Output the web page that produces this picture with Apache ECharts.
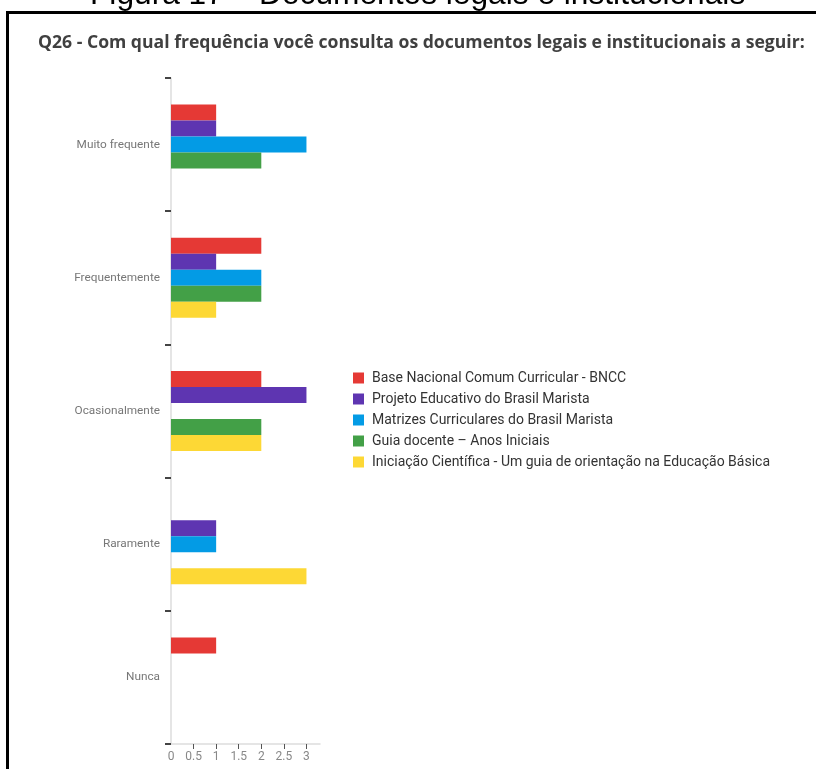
<!DOCTYPE html>
<html>
<head>
<meta charset="utf-8">
<script src="https://cdn.jsdelivr.net/npm/echarts@6/dist/echarts.min.js"></script>
<style>
html,body{margin:0;padding:0;background:#fff;}
#chart{width:816px;height:769px;}
</style>
</head>
<body>
<div id="chart"></div>
<script>
const categories = ['Muito frequente', 'Frequentemente', 'Ocasionalmente', 'Raramente', 'Nunca'];
const seriesNames = [
  'Base Nacional Comum Curricular - BNCC',
  'Projeto Educativo do Brasil Marista',
  'Matrizes Curriculares do Brasil Marista',
  'Guia docente – Anos Iniciais',
  'Iniciação Científica - Um guia de orientação na Educação Básica'
];
const bncc = [1, 2, 2, 0, 1];
const projeto = [1, 1, 3, 1, 0];
const matrizes = [3, 2, 0, 1, 0];
const guia = [2, 2, 2, 0, 0];
const iniciacao = [0, 1, 2, 3, 0];
const colors = ['#E53935', '#5E35B1', '#039BE5', '#43A047', '#FDD835'];
const xTicks = [0, 0.5, 1, 1.5, 2, 2.5, 3];

const seriesData = [bncc, projeto, matrizes, guia, iniciacao];
const chart = echarts.init(document.getElementById('chart'));
chart.setOption({
  animation: false,
  backgroundColor: '#fff',
  graphic: [
    {type: 'text', left: 90, top: -21, style: {text: 'Figura 17 – Documentos legais e institucionais', font: '31.7px "Liberation Sans", Arial, sans-serif', fill: '#000'}},
    {type: 'rect', shape: {x: 7.5, y: 12.5, width: 900, height: 900}, style: {fill: 'none', stroke: '#000', lineWidth: 3}},
    {type: 'text', left: 38, top: 34, style: {text: 'Q26 - Com qual frequência você consulta os documentos legais e institucionais a seguir:', font: 'bold 17.6px "Open Sans", sans-serif', fill: '#404040'}}
  ],
  grid: {left: 171, top: 78, right: 496, bottom: 25, containLabel: false},
  legend: {
    orient: 'vertical', left: 348, top: 366,
    itemWidth: 11, itemHeight: 11, itemGap: 7,
    icon: 'rect',
    textStyle: {fontFamily: 'Roboto', fontSize: 14, color: '#333', padding: [0, 0, 0, 3]},
    data: seriesNames
  },
  xAxis: {
    type: 'value', min: 0, max: 3.3,
    axisLine: {show: true, lineStyle: {color: '#ddd', width: 1.5}},
    axisTick: {show: true, length: 5, lineStyle: {color: '#555'}, customValues: xTicks.slice(1)},
    axisLabel: {color: '#888', fontFamily: 'Roboto', fontSize: 12, margin: 7, customValues: xTicks},
    splitLine: {show: false}
  },
  yAxis: {
    type: 'category', data: categories, inverse: true,
    axisLine: {show: true, lineStyle: {color: '#ddd', width: 1.5}},
    axisTick: {show: true, length: 6, lineStyle: {color: '#444', width: 2}, interval: function (i) { return i < categories.length; }},
    axisLabel: {color: '#777', fontFamily: 'Roboto', fontSize: 11.8, margin: 11}
  },
  series: seriesNames.map((n, i) => ({
    name: n, type: 'bar', data: seriesData[i], barWidth: 16, barGap: '0%',
    itemStyle: {color: colors[i]}
  }))
});
</script>
</body>
</html>
